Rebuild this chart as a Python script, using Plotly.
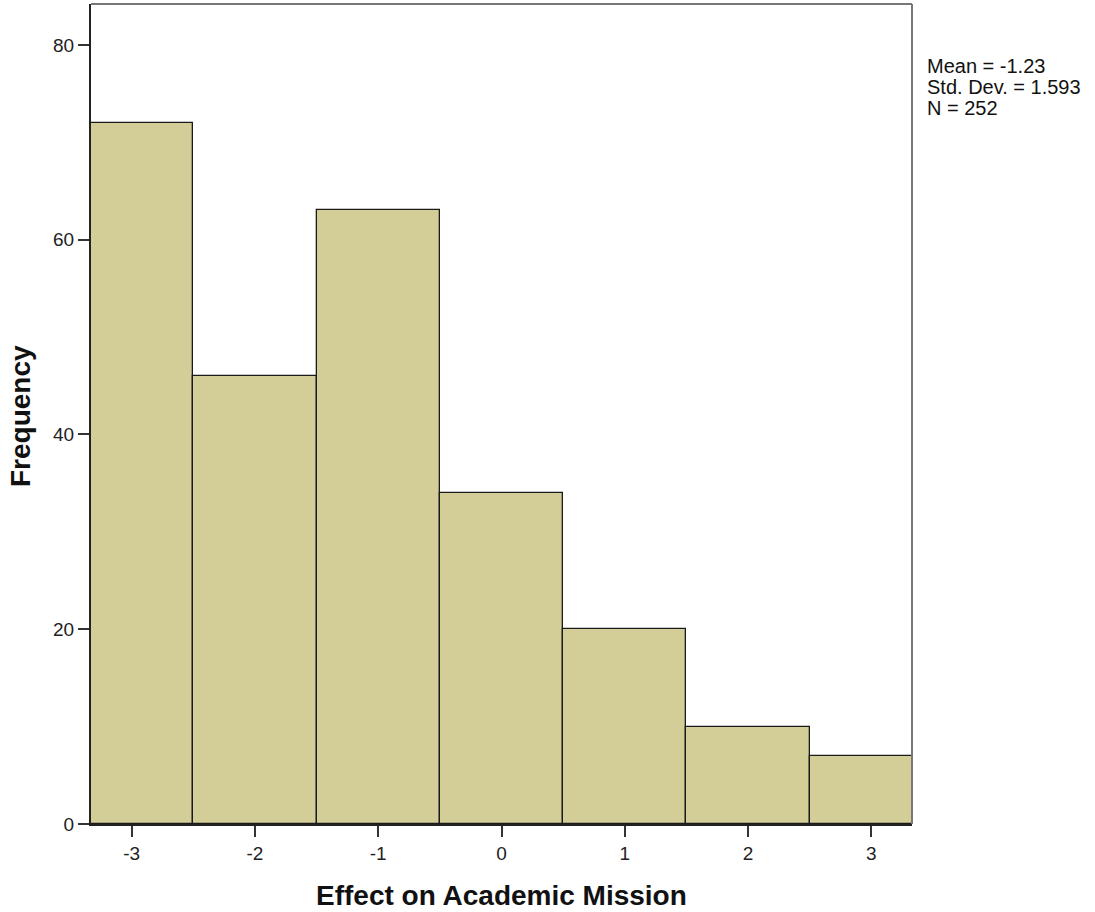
import plotly.graph_objects as go

categories = [-3, -2, -1, 0, 1, 2, 3]
frequency = [72, 46, 63, 34, 20, 10, 7]
y_ticks = [0, 20, 40, 60, 80]
stats_lines = ["Mean = -1.23", "Std. Dev. = 1.593", "N = 252"]
x_title = "Effect on Academic Mission"
y_title = "Frequency"

W, H = 1095, 912
L, R, T, B = 91, 183, 4, 88
PW, PH = W - L - R, H - T - B


def px_to_paper_x(px):
    return (px - L) / PW


def py_to_paper_y(py):
    return (H - B - py) / PH


FONT = "Liberation Sans, Arial, sans-serif"

fig = go.Figure()
fig.add_trace(go.Bar(
    x=categories, y=frequency, width=1,
    marker=dict(color="#D3CE98", line=dict(color="#1a1a1a", width=1.3)),
    showlegend=False, hoverinfo="x+y",
))

fig.update_layout(
    width=W, height=H,
    margin=dict(l=L, r=R, t=T, b=B),
    paper_bgcolor="white", plot_bgcolor="white",
    font=dict(family=FONT, color="#222222"),
    bargap=0,
)
fig.update_xaxes(
    range=[-3.33, 3.33], tickvals=categories, ticktext=[str(c) for c in categories],
    ticks="outside", ticklen=11, tickwidth=2, tickcolor="#333333",
    showline=True, linecolor="#222222", linewidth=2, showgrid=False, zeroline=False,
    tickfont=dict(size=19, color="#222222"),
)
fig.update_yaxes(
    range=[0, 84.2], tickvals=y_ticks,
    ticks="outside", ticklen=11, tickwidth=2, tickcolor="#333333",
    showline=True, linecolor="#222222", linewidth=2, showgrid=False, zeroline=False,
    tickfont=dict(size=19, color="#222222"),
)
# top and right frame lines (gray)
fig.add_shape(type="line", xref="paper", yref="paper", x0=0, x1=1, y0=1, y1=1,
              line=dict(color="#777777", width=2))
fig.add_shape(type="line", xref="paper", yref="paper", x0=1, x1=1, y0=0, y1=1,
              line=dict(color="#777777", width=2))

# axis titles
fig.add_annotation(
    xref="paper", yref="paper", x=px_to_paper_x(501), y=py_to_paper_y(895),
    xanchor="center", yanchor="middle", showarrow=False,
    text="<b>" + x_title + "</b>", font=dict(size=28, color="#111111", family=FONT),
)
fig.add_annotation(
    xref="paper", yref="paper", x=px_to_paper_x(20), y=py_to_paper_y(416),
    xanchor="center", yanchor="middle", showarrow=False, textangle=-90,
    text="<b>" + y_title + "</b>", font=dict(size=28, color="#111111", family=FONT),
)

# statistics box lines
for i, line in enumerate(stats_lines):
    fig.add_annotation(
        xref="paper", yref="paper", x=px_to_paper_x(925), y=py_to_paper_y(66 + 21 * i),
        xanchor="left", yanchor="middle", showarrow=False, align="left",
        text=line, font=dict(size=20, color="#111111", family=FONT),
    )

fig.write_html("out.html", config={"displayModeBar": False},
               post_script="document.body.style.margin='0';")
